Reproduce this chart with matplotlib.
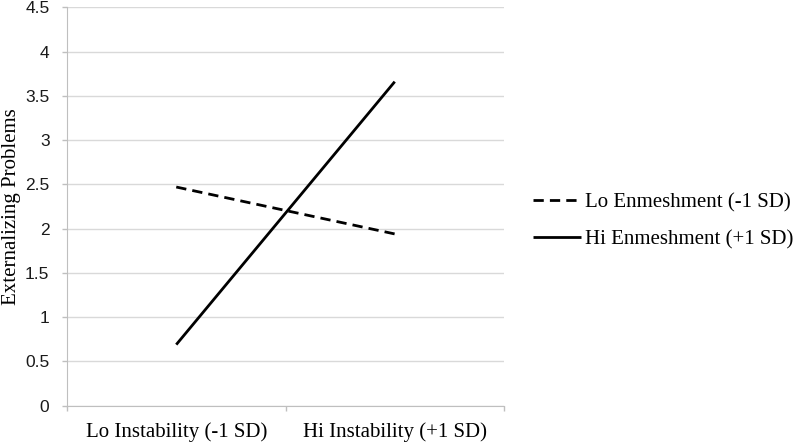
import matplotlib
matplotlib.use("Agg")
import matplotlib.pyplot as plt
from matplotlib.ticker import FixedLocator, NullFormatter, FixedFormatter

categories = ["Lo Instability (-1 SD)", "Hi Instability (+1 SD)"]
lo_enmeshment = [2.47, 1.94]
hi_enmeshment = [0.69, 3.66]
series_labels = ["Lo Enmeshment (-1 SD)", "Hi Enmeshment (+1 SD)"]
y_ticks = [0, 0.5, 1, 1.5, 2, 2.5, 3, 3.5, 4, 4.5]
y_tick_labels = ["0", "0.5", "1", "1.5", "2", "2.5", "3", "3.5", "4", "4.5"]

serif = "Liberation Serif"
sans = "Liberation Sans"

fig = plt.figure(figsize=(8, 4.43), dpi=100)
ax = fig.add_axes([67/800, 1 - 405.7/443, (504-67)/800, (405.7-7.3)/443])

xpos = [i + 0.5 for i in range(len(categories))]
ax.plot(xpos, lo_enmeshment, color="black", lw=2.0, linestyle=(0, (3.7, 2.2)),
        label=series_labels[0], solid_capstyle="butt", dash_capstyle="butt")
ax.plot(xpos, hi_enmeshment, color="black", lw=2.0, linestyle="-",
        label=series_labels[1], solid_capstyle="butt")

ax.set_xlim(0, len(categories))
ax.set_ylim(0, 4.5)

ax.yaxis.set_major_locator(FixedLocator(y_ticks))
ax.yaxis.set_major_formatter(FixedFormatter(y_tick_labels))
ax.grid(axis="y", color="#d9d9d9", lw=1.0)
ax.set_axisbelow(True)

ax.xaxis.set_major_locator(FixedLocator(list(range(len(categories) + 1))))
ax.xaxis.set_major_formatter(NullFormatter())
ax.xaxis.set_minor_locator(FixedLocator(xpos))
ax.xaxis.set_minor_formatter(FixedFormatter(categories))
ax.tick_params(axis="x", which="major", length=3.6, color="#bfbfbf", width=1)
ax.tick_params(axis="x", which="minor", length=0, pad=12)
ax.tick_params(axis="y", length=3.6, color="#bfbfbf", width=1, pad=9)
for lab in ax.get_xticklabels(minor=True):
    lab.set_fontfamily(serif)
    lab.set_fontsize(15)
for lab in ax.get_yticklabels():
    lab.set_fontfamily(sans)
    lab.set_fontsize(12.5)
    lab.set_color("#1a1a1a")

for s in ["top", "right"]:
    ax.spines[s].set_visible(False)
ax.spines["left"].set_color("#bfbfbf")
ax.spines["bottom"].set_color("#bfbfbf")

ax.set_ylabel("Externalizing Problems", fontfamily=serif, fontsize=15, labelpad=3)

fig.legend(loc="center left", bbox_to_anchor=(533/800, 1 - 221/443), frameon=False,
           prop={"family": serif, "size": 15}, handlelength=2.3, handletextpad=0.2,
           labelspacing=0.85, borderaxespad=0, borderpad=0)

fig.savefig("out.png", dpi=100)
